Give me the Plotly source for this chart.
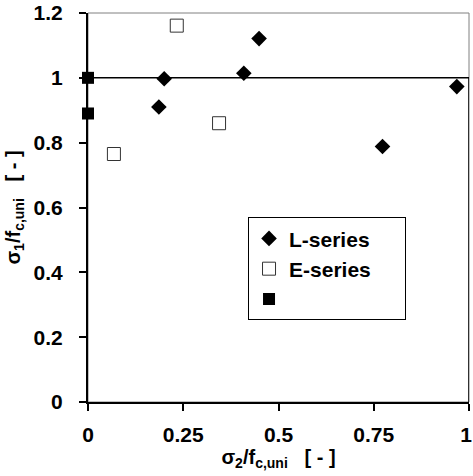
import plotly.graph_objects as go

# L-series (filled diamonds)
l_x = [0.186, 0.200, 0.409, 0.449, 0.773, 0.968]
l_y = [0.910, 0.997, 1.014, 1.121, 0.788, 0.973]

# E-series (open squares)
e_x = [0.068, 0.233, 0.344]
e_y = [0.765, 1.161, 0.860]

# unnamed series (filled squares)
s_x = [0.0, 0.0]
s_y = [1.0, 0.890]

# boundary line
b_x = [0.0, 1.0, 1.0]
b_y = [1.0, 1.0, 0.0]

x_ticks = [0, 0.25, 0.5, 0.75, 1]
x_ticklabels = ["0", "0.25", "0.5", "0.75", "1\u00a0"]
y_ticks = [0, 0.2, 0.4, 0.6, 0.8, 1, 1.2]
y_ticklabels = ["0", "0.2", "0.4", "0.6", "0.8", "1", "1.2"]

PAD = "\u00a0" * 5
FONT = "Liberation Sans, Arial, sans-serif"

fig = go.Figure()
fig.add_trace(go.Scatter(x=b_x, y=b_y, mode="lines", line=dict(color="black", width=1.5),
                         showlegend=False, hoverinfo="skip", cliponaxis=False))
fig.add_trace(go.Scatter(x=l_x, y=l_y, mode="markers", name="L-series" + PAD,
                         marker=dict(symbol="diamond", size=12, color="black"), cliponaxis=False))
fig.add_trace(go.Scatter(x=e_x, y=e_y, mode="markers", name="E-series" + PAD,
                         marker=dict(symbol="square", size=13, color="white",
                                     line=dict(color="#333333", width=1)), cliponaxis=False))
fig.add_trace(go.Scatter(x=s_x, y=s_y, mode="markers", name=" ",
                         marker=dict(symbol="square", size=12, color="black"), cliponaxis=False))

fig.update_layout(
    width=473, height=476,
    margin=dict(l=88, r=4, t=13, b=74, autoexpand=False),
    paper_bgcolor="white", plot_bgcolor="white",
    font=dict(family=FONT, size=21, color="black", weight="bold"),
    showlegend=True,
    legend=dict(x=0.42, y=0.475, xanchor="left", yanchor="top",
                bgcolor="white", bordercolor="black", borderwidth=1,
                font=dict(family=FONT, size=21, color="black", weight="bold"),
                tracegroupgap=0, itemwidth=30),
    shapes=[dict(type="rect", xref="paper", yref="paper", x0=0, y0=0, x1=1, y1=1,
                 line=dict(color="#808080", width=1), layer="below")],
    xaxis=dict(range=[0, 1], tickvals=x_ticks, ticktext=x_ticklabels, automargin=False,
               ticklabeloverflow="allow", ticklabelstandoff=6,
               showgrid=False, zeroline=False, showline=True, linecolor="black", linewidth=2,
               ticks="outside", ticklen=7, tickwidth=2, tickcolor="black",
               tickfont=dict(family=FONT, size=21, weight="bold"),
               title=dict(text="σ<sub>2</sub>/f<sub>c,uni</sub>   [ - ]", standoff=4,
                          font=dict(family=FONT, size=20, weight="bold"))),
    yaxis=dict(range=[0, 1.2], tickvals=y_ticks, ticktext=y_ticklabels, automargin=False,
               ticklabeloverflow="allow", ticklabelstandoff=12,
               showgrid=False, zeroline=False, showline=True, linecolor="black", linewidth=2,
               ticks="outside", ticklen=7, tickwidth=2, tickcolor="black",
               tickfont=dict(family=FONT, size=21, weight="bold"),
               title=dict(text="σ<sub>1</sub>/f<sub>c,uni</sub>   [ - ]", standoff=8,
                          font=dict(family=FONT, size=20, weight="bold"))),
)

fig.write_html("out.html", config={"displayModeBar": False},
               post_script="document.body.style.margin='0';document.body.style.padding='0';")
